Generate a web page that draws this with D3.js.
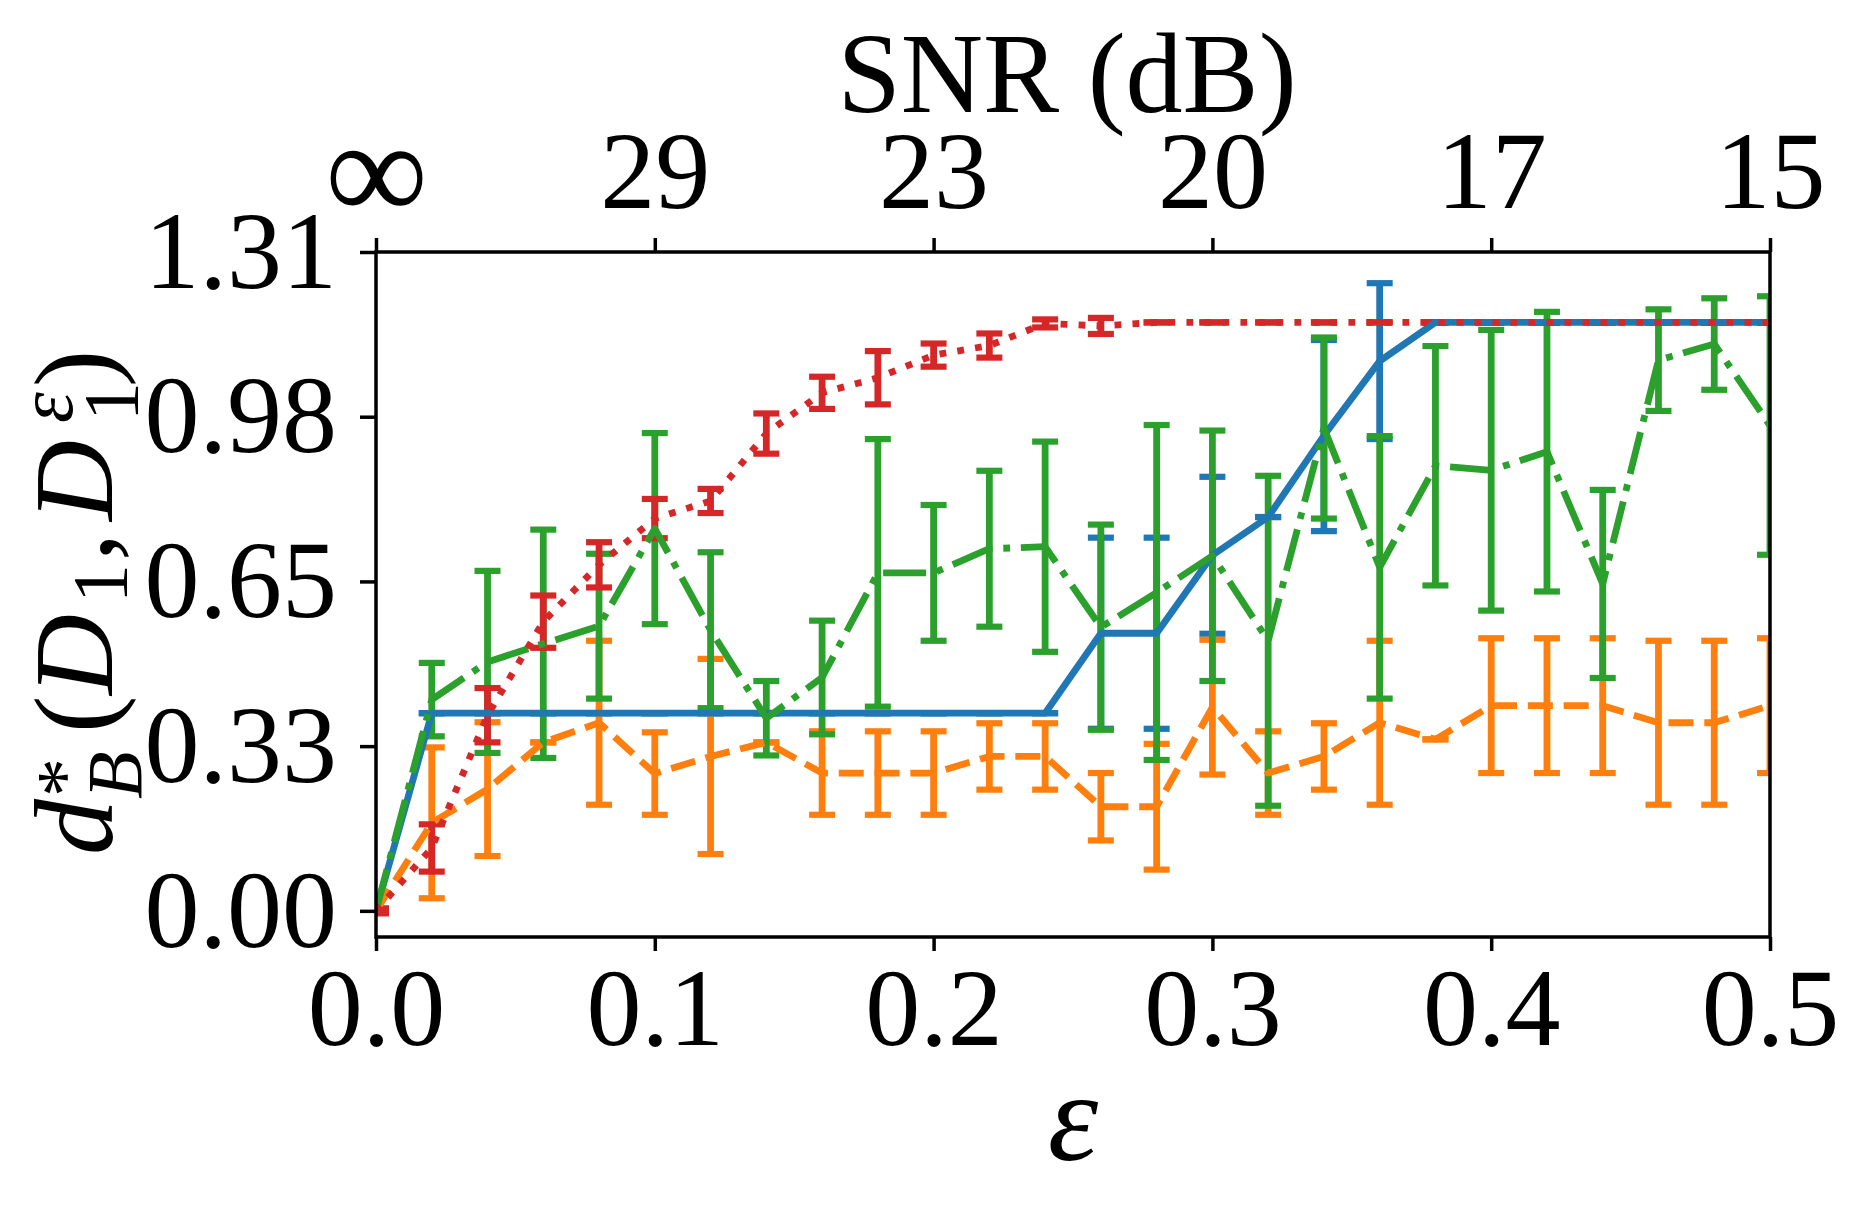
<!DOCTYPE html>
<html>
<head>
<meta charset="utf-8">
<script src="https://cdn.jsdelivr.net/npm/d3@7"></script>
<style>
  body { margin: 0; background: #fff; }
  text { font-family: "Liberation Serif", "DejaVu Serif", serif; }
</style>
</head>
<body>
<div id="main"></div>
<script>
// **** data ****
var eps = [0, 0.02, 0.04, 0.06, 0.08, 0.10, 0.12, 0.14, 0.16, 0.18, 0.20, 0.22, 0.24,
           0.26, 0.28, 0.30, 0.32, 0.34, 0.36, 0.38, 0.40, 0.42, 0.44, 0.46, 0.48, 0.50];

var blueMean = [0, 0.393, 0.393, 0.393, 0.393, 0.393, 0.393, 0.393, 0.393, 0.393, 0.393, 0.393, 0.393,
                0.552, 0.552, 0.707, 0.783, 0.945, 1.093, 1.17, 1.17, 1.17, 1.17, 1.17, 1.17, 1.17];
var blueErr  = [0, 0, 0, 0, 0, 0, 0, 0, 0, 0, 0, 0, 0,
                0.19, 0.19, 0.156, 0, 0.19, 0.155, 0, 0, 0, 0, 0, 0, 0];

var orangeMean = [0, 0.175, 0.242, 0.335, 0.374, 0.273, 0.307, 0.335, 0.274, 0.274, 0.274, 0.307, 0.307,
                  0.207, 0.207, 0.405, 0.274, 0.307, 0.374, 0.341, 0.408, 0.408, 0.408, 0.374, 0.374, 0.408];
var orangeErr  = [0, 0.15, 0.133, 0, 0.163, 0.082, 0.194, 0, 0.083, 0.083, 0.083, 0.066, 0.066,
                  0.067, 0.125, 0.134, 0.083, 0.066, 0.163, 0, 0.134, 0.134, 0.134, 0.163, 0.163, 0.134];

var greenMean = [0, 0.42, 0.495, 0.531, 0.566, 0.76, 0.558, 0.383, 0.464, 0.672, 0.672, 0.72, 0.724,
                 0.564, 0.633, 0.706, 0.537, 0.96, 0.683, 0.885, 0.876, 0.913, 0.65, 1.095, 1.127, 0.965];
var greenErr  = [0, 0.073, 0.181, 0.227, 0.144, 0.19, 0.155, 0.074, 0.113, 0.266, 0.135, 0.155, 0.209,
                 0.204, 0.333, 0.249, 0.328, 0.18, 0.261, 0.238, 0.279, 0.278, 0.187, 0.101, 0.091, 0.257];

var redMean = [0, 0.125, 0.389, 0.575, 0.688, 0.78, 0.815, 0.949, 1.03, 1.06, 1.105, 1.124, 1.168,
               1.163, 1.17, 1.17, 1.17, 1.17, 1.17, 1.17, 1.17, 1.17, 1.17, 1.17, 1.17, 1.17];
var redErr  = [0.005, 0.047, 0.054, 0.052, 0.045, 0.039, 0.024, 0.04, 0.032, 0.053, 0.023, 0.024, 0.008,
               0.016, 0, 0, 0, 0, 0, 0, 0, 0, 0, 0, 0, 0];

var xTicks = [0, 0.1, 0.2, 0.3, 0.4, 0.5];
var xLabels = ["0.0", "0.1", "0.2", "0.3", "0.4", "0.5"];
var snrLabels = ["\u221E", "29", "23", "20", "17", "15"];
var yTicks = [0, 0.3275, 0.655, 0.9825, 1.31];
var yLabels = ["0.00", "0.33", "0.65", "0.98", "1.31"];

// **** dimensions ****
var W = 1866, H = 1214;
var margin = {top: 252, right: 96, bottom: 277, left: 376},
    width = W - margin.left - margin.right,
    height = H - margin.top - margin.bottom;
var FS = 110;

var svg = d3.select("#main")
  .append("svg")
    .attr("width", W)
    .attr("height", H);

var g = svg.append("g")
    .attr("transform", "translate(" + margin.left + "," + margin.top + ")");

var x = d3.scaleLinear().domain([0, 0.5]).range([0, width]);
var y = d3.scaleLinear().domain([-0.052, 1.31]).range([height, 0]);

svg.append("defs").append("clipPath").attr("id", "plotclip")
  .append("rect").attr("width", width).attr("height", height);

var series = [
  {mean: blueMean,   err: blueErr,   color: "#1f77b4", dash: null},
  {mean: orangeMean, err: orangeErr, color: "#ff7f0e", dash: "25,10.8"},
  {mean: greenMean,  err: greenErr,  color: "#2ca02c", dash: "43,10.8,6.8,10.8"},
  {mean: redMean,    err: redErr,    color: "#d62728", dash: "6.8,11.2"}
];

var plot = g.append("g").attr("clip-path", "url(#plotclip)");
var LW = 6.8, CAP = 13;

// **** error bars first (matplotlib puts data lines just above them) ****
series.forEach(function(s) {
  var pts = eps.map(function(e, i) { return {x: e, m: s.mean[i], e: s.err[i]}; });
  var eb = plot.append("g");
  eb.selectAll("line.bar").data(pts).enter().append("line")
    .attr("class", "bar")
    .attr("x1", function(d) { return x(d.x); })
    .attr("x2", function(d) { return x(d.x); })
    .attr("y1", function(d) { return y(d.m - d.e); })
    .attr("y2", function(d) { return y(d.m + d.e); })
    .style("stroke", s.color)
    .style("stroke-width", LW);
  [-1, 1].forEach(function(sg) {
    eb.selectAll("line.cap" + (sg + 1)).data(pts).enter().append("line")
      .attr("class", "cap" + (sg + 1))
      .attr("x1", function(d) { return x(d.x) - CAP; })
      .attr("x2", function(d) { return x(d.x) + CAP; })
      .attr("y1", function(d) { return y(d.m + sg * d.e); })
      .attr("y2", function(d) { return y(d.m + sg * d.e); })
      .style("stroke", s.color)
      .style("stroke-width", 6.2);
  });
});

// **** data lines ****
var line = d3.line()
  .x(function(d) { return x(d[0]); })
  .y(function(d) { return y(d[1]); });

series.forEach(function(s) {
  plot.append("path")
    .datum(eps.map(function(e, i) { return [e, s.mean[i]]; }))
    .attr("d", line)
    .style("fill", "none")
    .style("stroke", s.color)
    .style("stroke-width", LW)
    .style("stroke-linejoin", "round")
    .style("stroke-dasharray", s.dash);
});

// **** frame ****
g.append("rect")
  .attr("width", width).attr("height", height)
  .style("fill", "none").style("stroke", "#000").style("stroke-width", 3.5);

// **** axes ****
function styleAxis(sel) {
  sel.select(".domain").remove();
  sel.selectAll(".tick line").style("stroke", "#000").style("stroke-width", 3.5);
  sel.selectAll(".tick text").style("font-size", FS + "px").style("fill", "#000")
    .style("font-family", "'Liberation Serif', serif");
}

g.append("g")
  .attr("transform", "translate(0," + height + ")")
  .call(d3.axisBottom(x).tickValues(xTicks).tickSize(14).tickPadding(16)
    .tickFormat(function(d, i) { return xLabels[i]; }))
  .call(styleAxis);

var topAx = g.append("g")
  .call(d3.axisTop(x).tickValues(xTicks).tickSize(14).tickPadding(30)
    .tickFormat(function(d, i) { return snrLabels[i]; }))
  .call(styleAxis);
// the infinity sign is drawn wider in the original
topAx.selectAll(".tick text").filter(function(d) { return d === 0; })
  .style("font-size", "144px").attr("y", -32);

g.append("g")
  .call(d3.axisLeft(y).tickValues(yTicks).tickSize(16).tickPadding(23)
    .tickFormat(function(d, i) { return yLabels[i]; }))
  .call(styleAxis);

// **** titles ****
svg.append("text")
  .attr("x", margin.left + width / 2 - 6)
  .attr("y", 112)
  .attr("text-anchor", "middle")
  .style("font-size", "114px")
  .text("SNR (dB)");

svg.append("text")
  .attr("x", margin.left + width / 2)
  .attr("y", 1160)
  .attr("text-anchor", "middle")
  .style("font-size", "128px")
  .style("font-style", "italic")
  .text("\u03B5");

// **** y label: d*_B(D_1, D_1^eps), placed piece by piece along the rotated baseline ****
// offsets are measured from the start of the label (its lower end on screen)
var ylPieces = [
  {t: "d",      at: 0,   size: 112, it: true,  shift: 0},
  {t: "*",      at: 58,  size: 78,  it: false, shift: -22},
  {t: "B",      at: 56,  size: 78,  it: true,  shift: 29},
  {t: "(",      at: 122, size: 112, it: false, shift: 0},
  {t: "D",      at: 160, size: 112, it: true,  shift: 0},
  {t: "1",      at: 252, size: 78,  it: false, shift: 14},
  {t: ",",      at: 294, size: 112, it: false, shift: 0},
  {t: "D",      at: 334, size: 112, it: true,  shift: 0},
  {t: "\u03B5", at: 432, size: 78,  it: true,  shift: -40},
  {t: "1",      at: 434, size: 78,  it: false, shift: 25},
  {t: ")",      at: 468, size: 112, it: false, shift: 0}
];
var yl = svg.append("g")
  .attr("transform", "translate(112,855) rotate(-90)");
yl.selectAll("text").data(ylPieces).enter().append("text")
  .attr("x", function(d) { return d.at; })
  .attr("y", function(d) { return d.shift; })
  .style("font-size", function(d) { return d.size + "px"; })
  .style("font-style", function(d) { return d.it ? "italic" : "normal"; })
  .text(function(d) { return d.t; });
</script>
</body>
</html>
